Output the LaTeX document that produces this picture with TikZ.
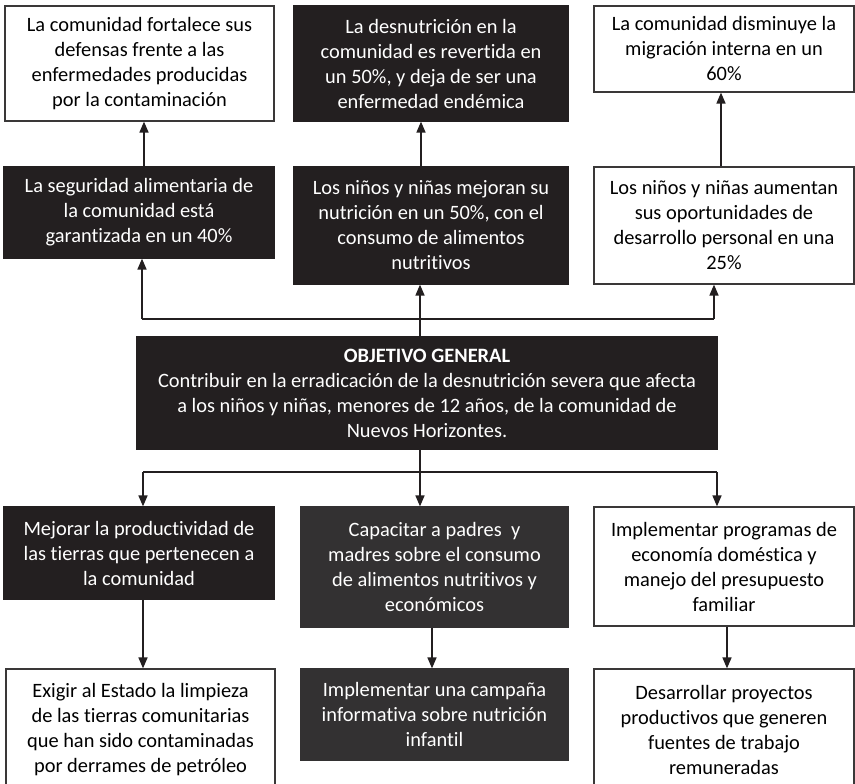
\documentclass[tikz,border=0pt]{standalone}
\usepackage{fontspec}
\setmainfont{Carlito}[Ligatures=NoCommon]
\usetikzlibrary{arrows.meta}
\definecolor{boxblack}{HTML}{231F20}
\definecolor{boxgray}{HTML}{333132}
\definecolor{edge}{HTML}{3A3838}
\tikzset{
  box/.style={line width=1.2pt, align=center, inner sep=0pt, anchor=center,
    font=\fontsize{20.4}{25}\selectfont},
  wbox/.style={box, draw=edge, fill=white, text=black},
  bbox/.style={box, draw=boxblack, fill=boxblack, text=white},
  gbox/.style={box, draw=boxgray, fill=boxgray, text=white},
  arr/.style={-{Triangle[width=9pt,length=11pt]}, line width=1.6pt, draw=boxblack},
  ln/.style={line width=1.6pt, draw=boxblack}
}
\begin{document}
\begin{tikzpicture}[x=1pt,y=-1pt]
\useasboundingbox[fill=white] (0,0) rectangle (855,784);
% top row
\node[wbox, minimum width=269pt, minimum height=115pt] (A) at (139.5,63.5)
  {La comunidad fortalece sus\\defensas frente a las\\enfermedades producidas\\por la contaminación};
\node[bbox, minimum width=274pt, minimum height=115pt] (B) at (431,63.5)
  {La desnutrición en la\\comunidad es revertida en\\un 50\%, y deja de ser una\\enfermedad endémica};
\node[wbox, minimum width=260pt, minimum height=86pt] (C) at (724,49)
  {La comunidad disminuye la\\migración interna en un\\60\%};
% second row
\node[bbox, minimum width=270pt, minimum height=91pt] (D) at (139,212.5)
  {La seguridad alimentaria de\\la comunidad está\\garantizada en un 40\%};
\node[bbox, minimum width=274pt, minimum height=117pt] (E) at (431,225.5)
  {Los niños y niñas mejoran su\\nutrición en un 50\%, con el\\consumo de alimentos\\nutritivos};
\node[wbox, minimum width=260pt, minimum height=117pt] (F) at (724,225.5)
  {Los niños y niñas aumentan\\sus oportunidades de\\desarrollo personal en una\\25\%};
% objective
\node[bbox, minimum width=580pt, minimum height=112pt] (O) at (427,393)
  {\textbf{OBJETIVO GENERAL}\\Contribuir en la erradicación de la desnutrición severa que afecta\\a los niños y niñas, menores de 12 años, de la comunidad de\\Nuevos Horizontes.};
% third row
\node[bbox, minimum width=270pt, minimum height=92pt] (G) at (139,553)
  {Mejorar la productividad de\\las tierras que pertenecen a\\la comunidad};
\node[gbox, minimum width=267pt, minimum height=120pt] (H) at (434.5,567)
  {Capacitar a padres\ \ y\\madres sobre el consumo\\de alimentos nutritivos y\\económicos};
\node[wbox, minimum width=260pt, minimum height=119pt] (I) at (724,566.5)
  {Implementar programas de\\economía doméstica y\\manejo del presupuesto\\familiar};
% fourth row
\node[wbox, minimum width=269pt, minimum height=121pt] (J) at (140.5,729.5)
  {Exigir al Estado la limpieza\\de las tierras comunitarias\\que han sido contaminadas\\por derrames de petróleo};
\node[gbox, minimum width=267pt, minimum height=91pt] (K) at (434.5,714.5)
  {Implementar una campaña\\informativa sobre nutrición\\infantil};
\node[wbox, minimum width=260pt, minimum height=121pt] (L) at (724,729.5)
  {Desarrollar proyectos\\productivos que generen\\fuentes de trabajo\\remuneradas};
% upper connectors
\draw[arr] ([xshift=5pt]D.north) -- ([xshift=5pt]D.north |- A.south);
\draw[arr] ([xshift=-10pt]E.north) -- ([xshift=-10pt]E.north |- B.south);
\draw[arr] ([xshift=-3pt]F.north) -- ([xshift=-3pt]F.north |- C.south);
\coordinate (hu) at (420,319);
\coordinate (hul) at (142,319);
\coordinate (hur) at (714,319);
\draw[ln] (O.north -| hu) -- (hu);
\draw[ln] (hul) -- (hur);
\draw[arr] (hul) -- (hul |- D.south);
\draw[arr] (hu) -- (hu |- E.south);
\draw[arr] (hur) -- (hur |- F.south);
% lower connectors
\coordinate (hd) at (420,472);
\coordinate (hdl) at (143,472);
\coordinate (hdr) at (717,472);
\draw[ln] (O.south -| hd) -- (hd);
\draw[ln] (hdl) -- (hdr);
\draw[arr] (hdl) -- (hdl |- G.north);
\draw[arr] (hd) -- (hd |- H.north);
\draw[arr] (hdr) -- (hdr |- I.north);
\draw[arr] ([xshift=4pt]G.south) -- ([xshift=4pt]G.south |- J.north);
\draw[arr] ([xshift=-2.5pt]H.south) -- ([xshift=-2.5pt]H.south |- K.north);
\draw[arr] ([xshift=3pt]I.south) -- ([xshift=3pt]I.south |- L.north);
\end{tikzpicture}
\end{document}
